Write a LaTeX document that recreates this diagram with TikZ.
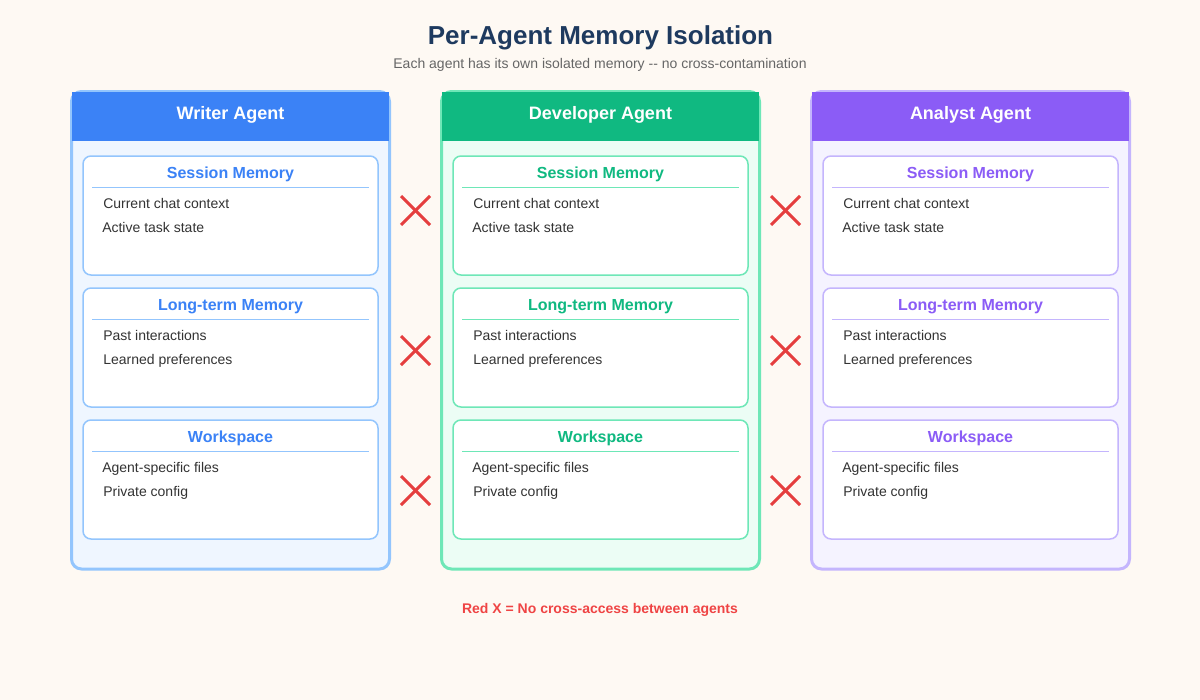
\documentclass[tikz,border=0pt]{standalone}
\usepackage{fontspec}
\setmainfont{Liberation Sans}
\definecolor{pagebg}{HTML}{FEF9F3}
\definecolor{titlec}{HTML}{1E3A5F}
\definecolor{subc}{HTML}{666666}
\definecolor{itemc}{HTML}{333333}
\definecolor{xred}{HTML}{E53E3E}
\definecolor{notered}{HTML}{EF4444}
\definecolor{mainA}{HTML}{3B82F6}\definecolor{edgeA}{HTML}{93C5FD}\definecolor{fillA}{HTML}{EFF6FF}
\definecolor{mainB}{HTML}{10B981}\definecolor{edgeB}{HTML}{6EE7B7}\definecolor{fillB}{HTML}{ECFDF5}
\definecolor{mainC}{HTML}{8B5CF6}\definecolor{edgeC}{HTML}{C4B5FD}\definecolor{fillC}{HTML}{F5F3FF}
\tikzset{
  x=0.75pt,y=-0.75pt,
  titletext/.style={anchor=base,inner sep=0,font=\fontsize{19.5}{22}\selectfont\bfseries,text=titlec},
  subtext/.style={anchor=base,inner sep=0,font=\fontsize{10.5}{12}\selectfont,text=subc},
  headtext/.style={anchor=base,inner sep=0,font=\fontsize{13.5}{16}\selectfont\bfseries,text=white},
  secttext/.style={anchor=base,inner sep=0,font=\fontsize{12}{14}\selectfont\bfseries},
  itemtext/.style={anchor=base west,inner sep=0,font=\fontsize{10.5}{12}\selectfont,text=itemc},
  notetext/.style={anchor=base,inner sep=0,font=\fontsize{10.5}{12}\selectfont\bfseries,text=notered},
  panelbox/.style={line width=2.25pt,rounded corners=7.5pt},
  memcard/.style={fill=white,line width=1.125pt,rounded corners=6pt},
  denyline/.style={draw=xred,line width=2.25pt},
}
\begin{document}
\begin{tikzpicture}
\fill[pagebg] (0,0) rectangle (1200,700);
\useasboundingbox (0,0) rectangle (1200,700);
\node[titletext] (title) at (600.5,44) {Per-Agent Memory Isolation};
\node[subtext] (subtitle) at (600,68) {Each agent has its own isolated memory {-}{-} no cross-contamination};
\foreach \id/\px/\name in {A/71.5/Writer Agent,B/441.5/Developer Agent,C/811.5/Analyst Agent}{
  \draw[panelbox,draw=edge\id,fill=fill\id] (\px,91.5) rectangle +(318,477.5);
  \fill[main\id] (\px+0.5,92) rectangle +(317,49);
  \node[headtext] (head\id) at (\px+159,119) {\name};
  \foreach \row/\ry/\sect/\itema/\dxa/\itemb/\dxb in {
    1/156/Session Memory/Current chat context/31.5/Active task state/30.5,
    2/288/Long-term Memory/Past interactions/31.5/Learned preferences/31.5,
    3/420/Workspace/Agent-specific files/30.5/Private config/31.5}{
    \draw[memcard,draw=edge\id] (\px+11.5,\ry) rectangle +(295,119);
    \node[secttext,text=main\id] (sect\id\row) at (\px+159,\ry+22) {\sect};
    \coordinate (divl\id\row) at (\px+20.5,\ry+31.5);
    \coordinate (divr\id\row) at (\px+297.5,\ry+31.5);
    \draw[edge\id,line width=0.75pt] (divl\id\row) -- (divr\id\row);
    \node[itemtext] (itema\id\row) at (\px+\dxa,\ry+52) {\itema};
    \node[itemtext] (itemb\id\row) at (\px+\dxb,\ry+76) {\itemb};
  }
}
\foreach \col/\cx in {1/415.5,2/785.5}{
  \foreach \row/\cy in {1/210.5,2/350.5,3/490.5}{
    \coordinate (xtl\col\row) at (\cx-14.5,\cy-14.5);
    \coordinate (xbr\col\row) at (\cx+14.5,\cy+14.5);
    \coordinate (xtr\col\row) at (\cx+14.5,\cy-14.5);
    \coordinate (xbl\col\row) at (\cx-14.5,\cy+14.5);
    \draw[denyline] (xtl\col\row) -- (xbr\col\row);
    \draw[denyline] (xtr\col\row) -- (xbl\col\row);
  }
}
\node[notetext] (note) at (600,613) {Red X = No cross-access between agents};
\end{tikzpicture}
\end{document}
